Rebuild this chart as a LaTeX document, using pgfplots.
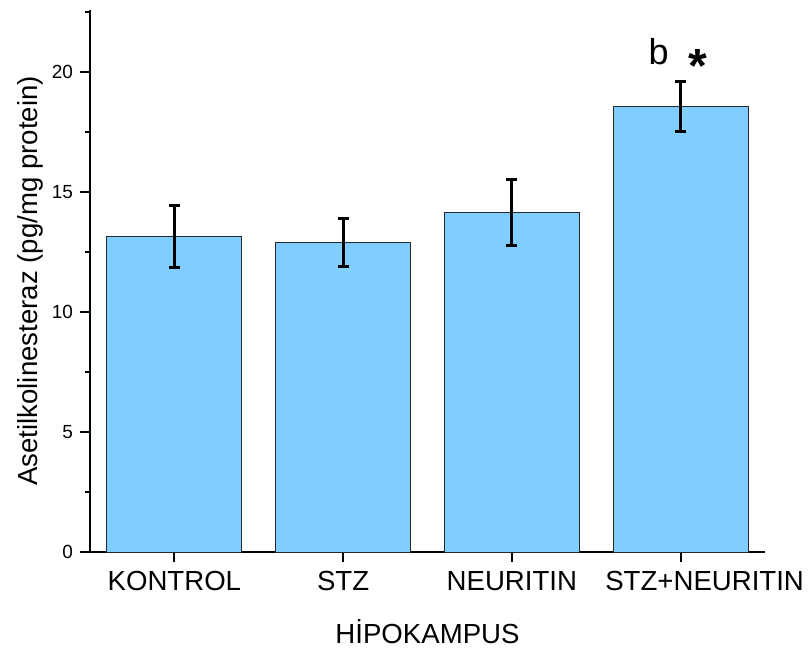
\documentclass[border=0pt]{standalone}
\usepackage{pgfplots}
\pgfplotsset{compat=1.18}
\usepackage{fontspec}
\setmainfont{Liberation Sans}
\usetikzlibrary{calc}
\definecolor{barblue}{RGB}{128,206,255}
\definecolor{edgegray}{RGB}{40,40,40}
\begin{document}
\begin{tikzpicture}
\begin{axis}[
  scale only axis,
  width=337.5pt, height=271pt,
  xmin=0.5, xmax=4.5,
  ymin=0, ymax=22.58,
  axis x line*=bottom, axis y line*=left,
  axis line style={line width=1pt, -},
  xtick={1,2,3,4},
  xticklabels={KONTROL,STZ,NEURITIN,\hspace*{24pt}STZ+NEURITIN},
  ytick={0,5,10,15,20},
  minor ytick={2.5,7.5,12.5,17.5,22.5},
  tick align=outside,
  major tick length=5pt,
  minor tick length=2.5pt,
  every tick/.style={black, line width=1pt},
  /pgf/number format/assume math mode=true,
  yticklabel style={font=\fontsize{9.5pt}{11pt}\selectfont},
  xticklabel style={font=\fontsize{13.8pt}{16pt}\selectfont, yshift=-1pt},
  xlabel={HİPOKAMPUS},
  ylabel={Asetilkolinesteraz (pg/mg protein)},
  xlabel style={font=\fontsize{13.8pt}{16pt}\selectfont, at={(rel axis cs:0.5,0)}, anchor=center, yshift=-40pt},
  ylabel style={font=\fontsize{13.8pt}{16pt}\selectfont, at={(rel axis cs:0,0.5)}, anchor=center, yshift=30pt},
  clip=false,
]
\addplot[ybar, bar width=0.8, fill=barblue, draw=edgegray, line width=0.5pt,
  error bars/.cd, y dir=both, y explicit,
  error bar style={line width=1.5pt, black},
  error mark options={black, line width=1.5pt, mark size=2.7pt, rotate=90}]
coordinates {
  (1,13.14) +- (0,1.30)
  (2,12.89) +- (0,1.00)
  (3,14.15) +- (0,1.37)
  (4,18.55) +- (0,1.05)
};
\node[font=\fontsize{18pt}{20pt}\selectfont] at (axis cs:3.87,20.85) {b};
\node[font=\bfseries\fontsize{24pt}{26pt}\selectfont] at (axis cs:4.10,20.25) {*};
\coordinate (bl) at (rel axis cs:0,0);
\coordinate (tr) at (rel axis cs:1,1);
\end{axis}
\pgfresetboundingbox
\path ($(bl)+(-45pt,-49pt)$) rectangle ($(tr)+(22pt,5pt)$);
\end{tikzpicture}
\end{document}
